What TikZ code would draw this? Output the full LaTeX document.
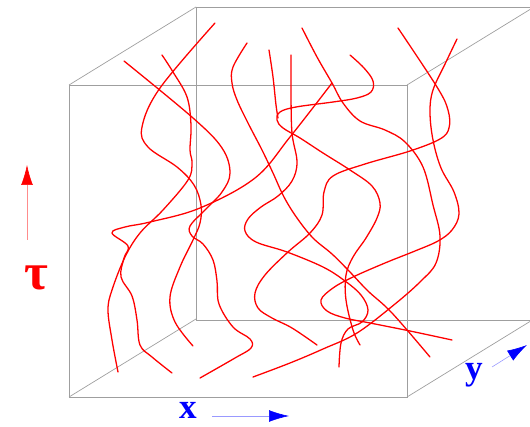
\documentclass[tikz,border=0pt]{standalone}
\usepackage{fontspec}
\setmainfont{Liberation Serif}
\usetikzlibrary{arrows.meta}

\tikzset{
  cube/.style={gray!75, line width=0.6pt},
  worldline/.style={red, line width=1.1pt, line cap=round},
  axis/.style={line width=0.5pt},
  axislabel/.style={font=\fontsize{30}{30}\selectfont\bfseries, inner sep=0pt}
}

\begin{document}
\begin{tikzpicture}[x=0.03cm, y=-0.03cm]
  \useasboundingbox (0,0) rectangle (530,427);
  % cube
  \draw[cube] (69,85) rectangle (407,397);
  \draw[cube] (196,7) -- (530,7);
  \draw[cube] (196,7) -- (196,320) -- (530,320);
  \foreach \x/\y in {69/85, 407/85, 69/397, 407/397} { \draw[cube] (\x,\y) -- ++(127,-78); }
  % world lines
  \draw[worldline] plot[smooth, tension=0.6] coordinates {(215,23) (160,88) (142,127) (148,147) (177,167) (194,185) (201,205) (200,223) (193,240) (180,267) (170,297) (175,322) (193,346)};
  \draw[worldline] plot[smooth, tension=0.6] coordinates {(162,55) (173,72) (187,97) (191,125) (190,150) (192,163) (188,180) (163,210) (140,233) (125,257) (112,290) (108,310) (112,340) (118,372)};
  \draw[worldline] plot[smooth, tension=0.6] coordinates {(124,61) (193,118) (222,148) (230,173) (222,192) (205,210) (190,226) (192,236) (203,244) (213,260) (217,281) (219,304) (233,327) (250,339) (251,348) (235,358) (200,378)};
  \draw[worldline] plot[smooth, tension=0.6] coordinates {(172,373) (152,357) (140,345) (137,320) (132,296) (121,277) (124,258) (128,246) (112,233) (125,227) (150,222) (200,208) (255,178) (290,137) (332,83)};
  \draw[worldline] plot[smooth, tension=0.6] coordinates {(302,28) (317,57) (332,83) (343,103) (360,121) (385,130) (405,142) (423,167) (433,205) (440,236) (436,263) (421,281) (395,304) (357,333) (323,349) (290,363) (253,377)};
  \draw[worldline] plot[smooth, tension=0.6] coordinates {(247,43) (233,67) (232,83) (237,100) (248,123) (262,150) (273,173) (284,197) (297,218) (313,238) (332,254) (349,271) (368,291) (392,313) (430,357)};
  \draw[worldline] plot[smooth, tension=0.6] coordinates {(269,50) (273,77) (276,105) (278,118)};
  \draw[worldline] plot[smooth, tension=0.6] coordinates {(291,55) (291,93) (292,133) (297,162) (292,181) (278,196) (261,207) (248,219) (245,231) (256,242) (287,252) (323,267) (345,281) (361,295) (368,310) (362,322) (348,329) (341,343) (339,367)};
  \draw[worldline] plot[smooth, tension=0.6] coordinates {(350,55) (364,68) (373,81) (371,92) (357,98) (333,102) (296,107) (280,112) (277,120) (283,128) (300,138) (323,153) (350,170) (372,186) (380,203) (377,218) (366,238) (353,257) (346,275) (346,300) (353,330) (360,345)};
  \draw[worldline] plot[smooth, tension=0.6] coordinates {(398,28) (437,87) (448,110) (449,128) (440,139) (410,151) (365,164) (333,176) (324,192) (322,215) (310,233) (288,252) (265,275) (255,293) (258,308) (272,318) (292,328) (317,345)};
  \draw[worldline] plot[smooth, tension=0.6] coordinates {(457,39) (446,62) (433,90) (430,112) (433,140) (441,168) (454,192) (459,214) (452,230) (438,241) (415,251) (385,263) (353,277) (333,288) (321,300) (327,311) (345,318) (370,323) (410,331) (452,340)};
  % axes
  \coordinate (tauFoot) at (27,240);
  \coordinate (tauHead) at (27,165);
  \draw[axis, red!45, -{Latex[color=red, length=17, width=10]}] (tauFoot) -- (tauHead);
  \node[axislabel, red, font=\fontsize{44}{44}\selectfont\bfseries] (tau) at (36,278) {τ};
  \coordinate (xFoot) at (212,416);
  \coordinate (xHead) at (289,416);
  \draw[axis, blue!40, -{Latex[color=blue, length=17, width=10]}] (xFoot) -- (xHead);
  \node[axislabel, blue] (xlab) at (188,410) {x};
  \coordinate (yFoot) at (492,367);
  \coordinate (yHead) at (527,345);
  \draw[axis, blue!40, -{Latex[color=blue, length=17, width=10]}] (yFoot) -- (yHead);
  \node[axislabel, blue] (ylab) at (474,375) {y};
\end{tikzpicture}
\end{document}
